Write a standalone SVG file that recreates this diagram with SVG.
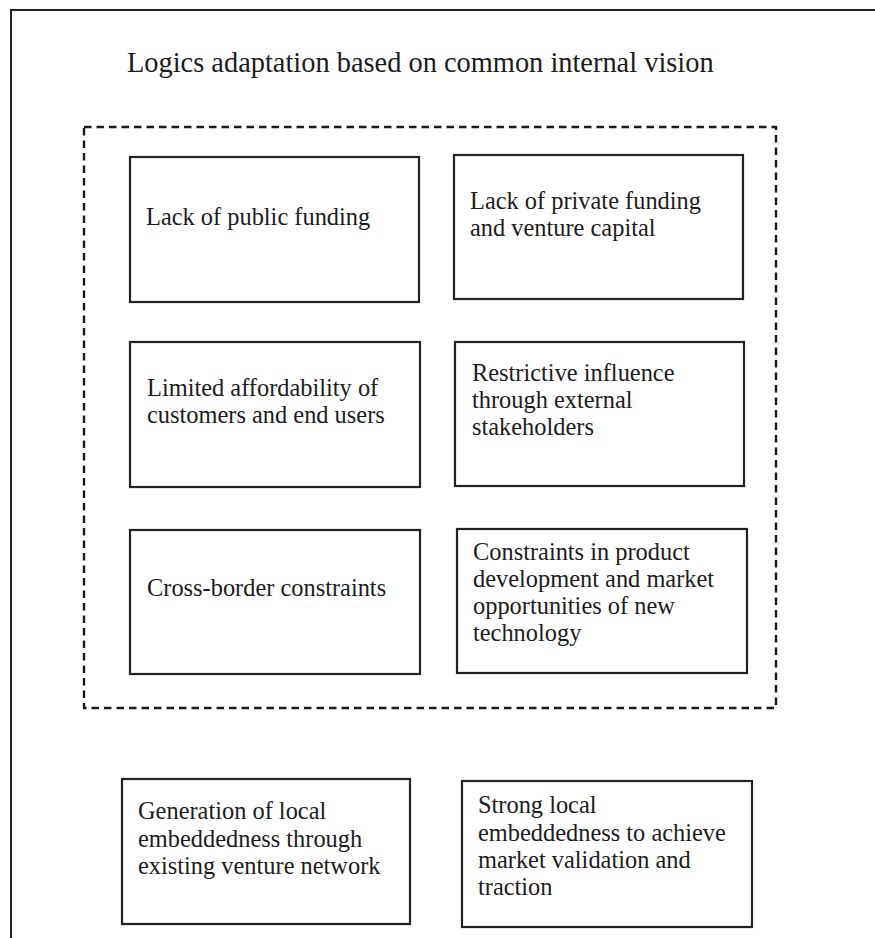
<svg xmlns="http://www.w3.org/2000/svg" width="875" height="938" viewBox="0 0 875 938">
  <style>
    .frame { fill: none; stroke: #222; stroke-width: 2; }
    .group { fill: none; stroke: #1a1a1a; stroke-width: 2.4; stroke-dasharray: 7.5 5; }
    .box { fill: #fff; stroke: #222; stroke-width: 2.2; }
    text { font-family: "Liberation Serif", "Times New Roman", serif; fill: #1c1c1c; }
    .title { font-size: 28.4px; }
    .label { font-size: 24.4px; }
  </style>
  <rect width="875" height="938" fill="#fff"/>

  <!-- outer frame: top and left edges -->
  <path class="frame" d="M11 938 V10 H875"/>

  <text class="title" x="127" y="72">Logics adaptation based on common internal vision</text>

  <!-- dashed grouping of constraints -->
  <g id="constraints-group">
    <rect class="group" x="84" y="127" width="692" height="581"/>
  </g>

  <g id="node-public-funding">
    <rect class="box" x="130" y="157" width="289" height="145"/>
    <text class="label" x="146" y="225">Lack of public funding</text>
  </g>

  <g id="node-private-funding">
    <rect class="box" x="454" y="155" width="289" height="144"/>
    <text class="label" x="470" y="209">Lack of private funding</text>
    <text class="label" x="470" y="236">and venture capital</text>
  </g>

  <g id="node-affordability">
    <rect class="box" x="130" y="342" width="290" height="145"/>
    <text class="label" x="147" y="396">Limited affordability of</text>
    <text class="label" x="147" y="423">customers and end users</text>
  </g>

  <g id="node-stakeholders">
    <rect class="box" x="455" y="342" width="289" height="144"/>
    <text class="label" x="472" y="381">Restrictive influence</text>
    <text class="label" x="472" y="408">through external</text>
    <text class="label" x="472" y="435">stakeholders</text>
  </g>

  <g id="node-cross-border">
    <rect class="box" x="130" y="530" width="290" height="144"/>
    <text class="label" x="147" y="596">Cross-border constraints</text>
  </g>

  <g id="node-technology">
    <rect class="box" x="457" y="529" width="290" height="144"/>
    <text class="label" x="473" y="560">Constraints in product</text>
    <text class="label" x="473" y="587">development and market</text>
    <text class="label" x="473" y="614">opportunities of new</text>
    <text class="label" x="473" y="641">technology</text>
  </g>

  <g id="node-venture-network">
    <rect class="box" x="122" y="779" width="288" height="145"/>
    <text class="label" x="138" y="819">Generation of local</text>
    <text class="label" x="138" y="847">embeddedness through</text>
    <text class="label" x="138" y="874">existing venture network</text>
  </g>

  <g id="node-market-validation">
    <rect class="box" x="462" y="781" width="290" height="146"/>
    <text class="label" x="478" y="813">Strong local</text>
    <text class="label" x="478" y="841">embeddedness to achieve</text>
    <text class="label" x="478" y="868">market validation and</text>
    <text class="label" x="478" y="895">traction</text>
  </g>

  <!-- no connectors between nodes -->
  <g id="connectors"/>
</svg>
